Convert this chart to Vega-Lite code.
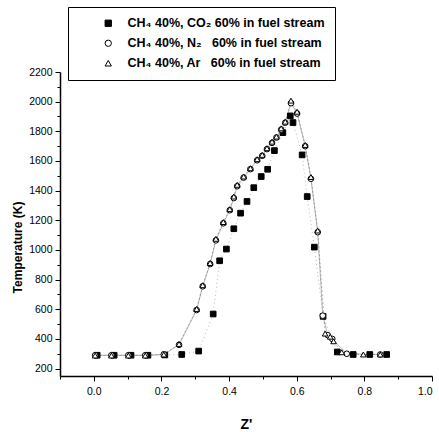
{
  "$schema": "https://vega.github.io/schema/vega-lite/v6.json",
  "width": 372,
  "height": 304,
  "autosize": {"type": "none"},
  "padding": {"left": 60, "top": 72, "right": 7, "bottom": 56},
  "background": "white",
  "config": {"view": {"stroke": null}, "font": "Liberation Sans"},
  "datasets": {
    "pts": [
      {"s": "CO2", "z": 0.01, "T": 290}, {"s": "CO2", "z": 0.06, "T": 290}, {"s": "CO2", "z": 0.11, "T": 290},
      {"s": "CO2", "z": 0.16, "T": 290}, {"s": "CO2", "z": 0.21, "T": 292}, {"s": "CO2", "z": 0.26, "T": 295},
      {"s": "CO2", "z": 0.31, "T": 318}, {"s": "CO2", "z": 0.353, "T": 568}, {"s": "CO2", "z": 0.372, "T": 927},
      {"s": "CO2", "z": 0.392, "T": 1006}, {"s": "CO2", "z": 0.414, "T": 1143}, {"s": "CO2", "z": 0.434, "T": 1248},
      {"s": "CO2", "z": 0.453, "T": 1327}, {"s": "CO2", "z": 0.473, "T": 1420}, {"s": "CO2", "z": 0.495, "T": 1495},
      {"s": "CO2", "z": 0.514, "T": 1544}, {"s": "CO2", "z": 0.534, "T": 1670}, {"s": "CO2", "z": 0.559, "T": 1791},
      {"s": "CO2", "z": 0.581, "T": 1904}, {"s": "CO2", "z": 0.589, "T": 1859}, {"s": "CO2", "z": 0.616, "T": 1641},
      {"s": "CO2", "z": 0.631, "T": 1360}, {"s": "CO2", "z": 0.652, "T": 1019}, {"s": "CO2", "z": 0.678, "T": 552},
      {"s": "CO2", "z": 0.72, "T": 312}, {"s": "CO2", "z": 0.767, "T": 295}, {"s": "CO2", "z": 0.816, "T": 295},
      {"s": "CO2", "z": 0.866, "T": 295},

      {"s": "N2", "z": 0.004, "T": 290}, {"s": "N2", "z": 0.052, "T": 290}, {"s": "N2", "z": 0.102, "T": 290},
      {"s": "N2", "z": 0.152, "T": 290}, {"s": "N2", "z": 0.207, "T": 296}, {"s": "N2", "z": 0.252, "T": 360},
      {"s": "N2", "z": 0.304, "T": 595}, {"s": "N2", "z": 0.322, "T": 755}, {"s": "N2", "z": 0.344, "T": 905},
      {"s": "N2", "z": 0.361, "T": 1065}, {"s": "N2", "z": 0.383, "T": 1180}, {"s": "N2", "z": 0.402, "T": 1268},
      {"s": "N2", "z": 0.414, "T": 1350}, {"s": "N2", "z": 0.424, "T": 1430}, {"s": "N2", "z": 0.443, "T": 1488},
      {"s": "N2", "z": 0.463, "T": 1545}, {"s": "N2", "z": 0.483, "T": 1605}, {"s": "N2", "z": 0.498, "T": 1635},
      {"s": "N2", "z": 0.512, "T": 1680}, {"s": "N2", "z": 0.527, "T": 1722}, {"s": "N2", "z": 0.54, "T": 1758},
      {"s": "N2", "z": 0.554, "T": 1812}, {"s": "N2", "z": 0.566, "T": 1858}, {"s": "N2", "z": 0.583, "T": 1990},
      {"s": "N2", "z": 0.601, "T": 1920}, {"s": "N2", "z": 0.625, "T": 1700}, {"s": "N2", "z": 0.642, "T": 1480},
      {"s": "N2", "z": 0.662, "T": 1120}, {"s": "N2", "z": 0.677, "T": 557}, {"s": "N2", "z": 0.692, "T": 425},
      {"s": "N2", "z": 0.705, "T": 400}, {"s": "N2", "z": 0.748, "T": 300}, {"s": "N2", "z": 0.847, "T": 295},

      {"s": "Ar", "z": 0.004, "T": 288}, {"s": "Ar", "z": 0.052, "T": 288}, {"s": "Ar", "z": 0.102, "T": 288},
      {"s": "Ar", "z": 0.152, "T": 288}, {"s": "Ar", "z": 0.207, "T": 295}, {"s": "Ar", "z": 0.252, "T": 366},
      {"s": "Ar", "z": 0.304, "T": 602}, {"s": "Ar", "z": 0.322, "T": 762}, {"s": "Ar", "z": 0.344, "T": 912},
      {"s": "Ar", "z": 0.361, "T": 1075}, {"s": "Ar", "z": 0.383, "T": 1188}, {"s": "Ar", "z": 0.402, "T": 1275},
      {"s": "Ar", "z": 0.414, "T": 1360}, {"s": "Ar", "z": 0.424, "T": 1439}, {"s": "Ar", "z": 0.443, "T": 1495},
      {"s": "Ar", "z": 0.463, "T": 1551}, {"s": "Ar", "z": 0.483, "T": 1612}, {"s": "Ar", "z": 0.498, "T": 1641},
      {"s": "Ar", "z": 0.512, "T": 1686}, {"s": "Ar", "z": 0.527, "T": 1730}, {"s": "Ar", "z": 0.54, "T": 1764},
      {"s": "Ar", "z": 0.554, "T": 1820}, {"s": "Ar", "z": 0.566, "T": 1865}, {"s": "Ar", "z": 0.583, "T": 2007},
      {"s": "Ar", "z": 0.601, "T": 1932}, {"s": "Ar", "z": 0.625, "T": 1708}, {"s": "Ar", "z": 0.642, "T": 1492},
      {"s": "Ar", "z": 0.662, "T": 1131}, {"s": "Ar", "z": 0.684, "T": 436}, {"s": "Ar", "z": 0.699, "T": 415},
      {"s": "Ar", "z": 0.709, "T": 384}, {"s": "Ar", "z": 0.733, "T": 310}, {"s": "Ar", "z": 0.797, "T": 295},
      {"s": "Ar", "z": 0.847, "T": 295}
    ]
  },
  "data": {"name": "pts"},
  "encoding": {
    "x": {
      "field": "z", "type": "quantitative",
      "scale": {"domain": [-0.1, 1.0], "nice": false, "zero": false},
      "axis": {
        "title": "Z'",
        "titleFont": "Liberation Sans", "titleFontSize": 14, "titleFontWeight": "bold",
        "titlePadding": 21,
        "values": [-0.1, 0.0, 0.1, 0.2, 0.3, 0.4, 0.5, 0.6, 0.7, 0.8, 0.9, 1.0],
        "labelExpr": "round(datum.value*10) % 2 === 0 && datum.value >= 0 ? format(datum.value, '.1f') : ''",
        "tickSize": {"condition": {"test": "round(datum.value*10) % 2 === 0", "value": 5}, "value": 3},
        "grid": false, "domainColor": "black", "domainWidth": 1.5,
        "tickColor": "black", "tickWidth": 1,
        "labelFont": "Liberation Sans", "labelFontSize": 10.5, "labelColor": "black", "labelPadding": 5
      }
    },
    "y": {
      "field": "T", "type": "quantitative",
      "scale": {"domain": [150, 2200], "nice": false, "zero": false},
      "axis": {
        "title": "Temperature (K)",
        "titleFont": "Liberation Sans", "titleFontSize": 12, "titleFontWeight": "bold",
        "titleY": 175,
        "values": [200, 300, 400, 500, 600, 700, 800, 900, 1000, 1100, 1200, 1300, 1400, 1500, 1600, 1700, 1800, 1900, 2000, 2100, 2200],
        "labelExpr": "datum.value % 200 === 0 ? datum.value : ''",
        "tickSize": {"condition": {"test": "datum.value % 200 === 0", "value": 5}, "value": 3},
        "grid": false, "domainColor": "black", "domainWidth": 1.5,
        "tickColor": "black", "tickWidth": 1,
        "labelFont": "Liberation Sans", "labelFontSize": 10.5, "labelColor": "black", "labelPadding": 3
      }
    }
  },
  "layer": [
    {
      "transform": [{"filter": "datum.s === 'CO2'"}],
      "mark": {"type": "line", "color": "#555555", "strokeWidth": 0.7, "opacity": 0.6, "strokeDash": [1, 3]},
      "encoding": {}
    },
    {
      "transform": [{"filter": "datum.s === 'N2'"}],
      "mark": {"type": "line", "color": "#555555", "strokeWidth": 0.7, "opacity": 0.6},
      "encoding": {}
    },
    {
      "transform": [{"filter": "datum.s === 'Ar'"}],
      "mark": {"type": "line", "color": "#555555", "strokeWidth": 0.7, "opacity": 0.6, "strokeDash": [2, 2]},
      "encoding": {}
    },
    {
      "mark": {"type": "point", "filled": false, "strokeWidth": 1, "size": 32, "opacity": 1},
      "encoding": {
        "shape": {
          "field": "s", "type": "nominal",
          "scale": {"domain": ["CO2", "N2", "Ar"], "range": ["square", "circle", "triangle-up"]},
          "legend": {
            "title": null,
            "orient": "none", "legendX": 8, "legendY": -65,
            "labelExpr": "datum.value === 'CO2' ? 'CH₄ 40%, CO₂ 60% in fuel stream' : datum.value === 'N2' ? 'CH₄ 40%, N₂\u00a0\u00a0 60% in fuel stream' : 'CH₄ 40%, Ar\u00a0\u00a0 60% in fuel stream'",
            "labelFont": "Liberation Sans", "labelFontSize": 12.5, "labelFontWeight": "bold", "labelColor": "black",
            "labelOffset": 13, "labelLimit": 400,
            "symbolOffset": 24, "symbolSize": 40, "symbolStrokeWidth": 1,
            "rowPadding": 7, "padding": 10,
            "strokeColor": "black", "fillColor": "white", "cornerRadius": 0
          }
        },
        "fill": {
          "field": "s", "type": "nominal",
          "scale": {"domain": ["CO2", "N2", "Ar"], "range": ["black", "white", "white"]}
        },
        "stroke": {
          "field": "s", "type": "nominal",
          "scale": {"domain": ["CO2", "N2", "Ar"], "range": ["black", "black", "black"]}
        }
      }
    }
  ]
}
